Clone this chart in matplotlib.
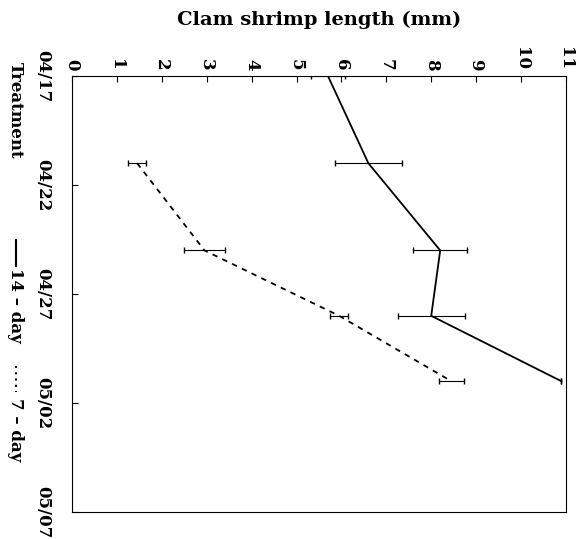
import numpy as np
import pandas as pd
import matplotlib
matplotlib.use('Agg')
import matplotlib.pyplot as plt
import matplotlib.dates as mdates
from matplotlib.lines import Line2D

# 14-day treatment
dates_14 = ['1990-04-17', '1990-04-21', '1990-04-25', '1990-04-28', '1990-05-01']
length_14 = [5.7, 6.6, 8.2, 8.0, 10.9]
err_14 = [0.38, 0.75, 0.6, 0.75, 0.0]

# 7-day treatment
dates_7 = ['1990-04-21', '1990-04-25', '1990-04-28', '1990-05-01']
length_7 = [1.45, 2.95, 5.95, 8.45]
err_7 = [0.2, 0.45, 0.2, 0.28]

date_ticks = ['1990-04-17', '1990-04-22', '1990-04-27', '1990-05-02', '1990-05-07']
length_ticks = list(range(0, 12))

plt.rcParams['font.family'] = ['DejaVu Serif']
plt.rcParams['font.weight'] = 'bold'

fig = plt.figure(figsize=(5.79, 5.39), dpi=100)
ax = fig.add_axes([0.1244, 0.050, 0.853, 0.809])

d14 = pd.to_datetime(dates_14)
d7 = pd.to_datetime(dates_7)

ax.plot(length_14, d14, color='black', lw=1.3, ls='-')
ax.errorbar(length_14, d14, xerr=err_14, fmt='none', ecolor='black',
            elinewidth=0.8, capsize=2)
ax.plot(length_7, d7, color='black', lw=1.3, ls=(0, (3, 3)))
ax.errorbar(length_7, d7, xerr=err_7, fmt='none', ecolor='black',
            elinewidth=0.8, capsize=2)

ticks = pd.to_datetime(date_ticks)
ax.set_ylim(ticks[-1], ticks[0])
ax.set_yticks(ticks)
ax.yaxis.set_major_formatter(mdates.DateFormatter('%m/%d'))
ax.set_xlim(0, 11)
ax.set_xticks(length_ticks)

ax.xaxis.tick_top()
ax.xaxis.set_label_position('top')
ax.set_xlabel('Clam shrimp length (mm)', fontsize=14, fontweight='bold', labelpad=16)
ax.tick_params(axis='x', direction='in', labelsize=12, rotation=-90, pad=4, length=4)
ax.tick_params(axis='y', direction='in', labelsize=12, rotation=-90, pad=21, length=4)
for lab in ax.get_yticklabels():
    lab.set_verticalalignment('center')
    lab.set_horizontalalignment('center')

# rotated legend along the left edge
lx = 0.027
fig.text(lx, 1 - 62 / 539, 'Treatment', rotation=-90, ha='center', va='top',
         fontsize=12, fontweight='bold')
fig.add_artist(Line2D([lx, lx], [1 - 240 / 539, 1 - 266 / 539], color='black', lw=1.5,
                      transform=fig.transFigure))
fig.text(lx, 1 - 268 / 539, '14 – day', rotation=-90, ha='center', va='top',
         fontsize=12, fontweight='bold')
fig.add_artist(Line2D([lx, lx], [1 - 366 / 539, 1 - 392 / 539], color='black', lw=1.5,
                      ls=(0, (1, 2)), transform=fig.transFigure))
fig.text(lx, 1 - 398 / 539, '7 – day', rotation=-90, ha='center', va='top',
         fontsize=12, fontweight='bold')

fig.savefig('out.png', dpi=100)
